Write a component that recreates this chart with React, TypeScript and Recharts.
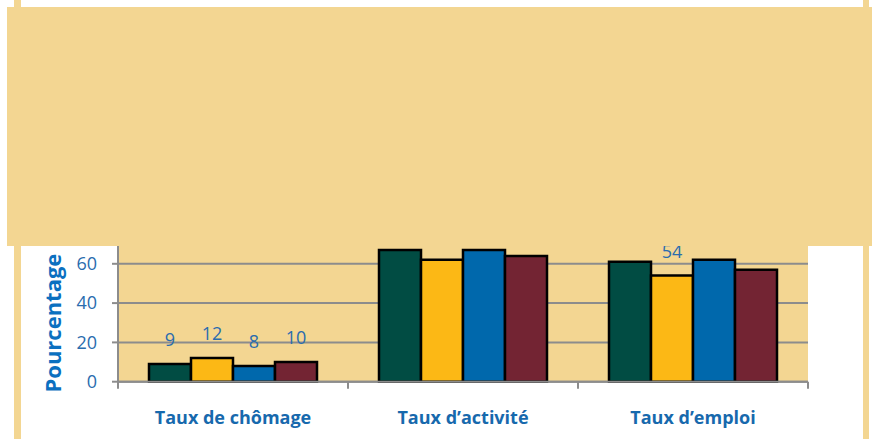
import { BarChart, Bar, XAxis, YAxis, CartesianGrid, LabelList, Label } from "recharts";

const categories = ["Taux de chômage", "Taux d’activité", "Taux d’emploi"];
const serie1 = [9, 67, 61];
const serie2 = [12, 62, 54];
const serie3 = [8, 67, 62];
const serie4 = [10, 64, 57];
// data labels as printed on the chart (the last one is not shown)
const labels1 = ["9", "67", "61"];
const labels2 = ["12", "62", "54"];
const labels3 = ["8", "67", "62"];
const labels4 = ["10", "64", ""];
const yTicks = [0, 20, 40, 60, 80];

const colors = ["#014c43", "#fcb815", "#0068ac", "#732433"];
const beige = "#f3d692";
const gridGray = "#8c8c8c";
const numBlue = "#2a6cae";
const catBlue = "#1769ad";
const font = "'Open Sans', sans-serif";

const chartW = 872;
const margin = { top: 224.5, right: 64, bottom: 0, left: 0 };
const yAxisW = 118;
const plotW = chartW - margin.left - margin.right - yAxisW;
const xTickSize = 7;
const xTickMargin = 23;

const data = categories.map((cat, i) => ({
  cat,
  s1: serie1[i],
  s2: serie2[i],
  s3: serie3[i],
  s4: serie4[i],
}));
const labelSets = [labels1, labels2, labels3, labels4];

const YTitle = ({ viewBox }: any) => {
  const cx = viewBox.x + 52;
  const cy = viewBox.y + viewBox.height / 2 + 20;
  return (
    <text
      x={cx}
      y={cy}
      transform={`rotate(-90 ${cx} ${cy})`}
      textAnchor="middle"
      dominantBaseline="central"
      fill="#0b70c0"
      fontFamily={font}
      fontWeight={700}
      fontSize={22}
    >
      Pourcentage
    </text>
  );
};

// category label + tick marks on the group boundaries
const CatTick = ({ x, y, payload, index }: any) => {
  const band = plotW / categories.length;
  const y1 = y - xTickSize - xTickMargin;
  const y2 = y1 + xTickSize;
  return (
    <g>
      <line x1={x - band / 2} x2={x - band / 2} y1={y1} y2={y2} stroke={gridGray} strokeWidth={2} />
      {index === categories.length - 1 && (
        <line x1={x + band / 2} x2={x + band / 2} y1={y1} y2={y2} stroke={gridGray} strokeWidth={2} />
      )}
      <text
        x={x}
        y={y}
        dy="0.71em"
        textAnchor="middle"
        fill={catBlue}
        fontFamily={font}
        fontWeight={700}
        fontSize={18}
      >
        {payload.value}
      </text>
    </g>
  );
};

export default function App() {
  const keys = ["s1", "s2", "s3", "s4"];
  return (
    <div
      style={{
        position: "absolute",
        left: 0,
        top: 0,
        width: 872,
        height: 439,
        background: "#fff",
        overflow: "hidden",
      }}
    >
      <div style={{ position: "absolute", left: 14, top: 0, width: 7, height: 439, background: beige }} />
      <div style={{ position: "absolute", left: 863, top: 0, width: 6, height: 439, background: beige }} />
      <div style={{ position: "absolute", left: 0, top: 0 }}>
        <BarChart
          width={chartW}
          height={439}
          data={data}
          margin={margin}
          barCategoryGap={31}
          barGap={0}
        >
          <CartesianGrid
            vertical={false}
            fill={beige}
            fillOpacity={1}
            stroke={gridGray}
            strokeWidth={2}
          />
          <XAxis
            dataKey="cat"
            height={57.3}
            axisLine={{ stroke: gridGray, strokeWidth: 2 }}
            tickLine={false}
            tickSize={xTickSize}
            tickMargin={xTickMargin}
            tick={<CatTick />}
            interval={0}
          />
          <YAxis
            width={yAxisW}
            domain={[0, 80]}
            ticks={yTicks}
            axisLine={{ stroke: gridGray, strokeWidth: 2 }}
            tickLine={{ stroke: gridGray, strokeWidth: 2 }}
            tickSize={6}
            tickMargin={15}
            tick={{ fill: numBlue, fontFamily: font, fontSize: 18 }}
          >
            <Label content={YTitle} />
          </YAxis>
          {keys.map((k, i) => (
            <Bar
              key={k}
              dataKey={k}
              fill={colors[i]}
              stroke="#000"
              strokeWidth={2.5}
              isAnimationActive={false}
            >
              <LabelList
                dataKey={k}
                position="top"
                offset={18}
                fill={numBlue}
                fontFamily={font}
                fontSize={18}
                formatter={(_v: any, ...rest: any[]) => _v}
                content={(p: any) => {
                  const txt = labelSets[i][p.index];
                  if (!txt) return null;
                  return (
                    <text
                      x={p.x + p.width / 2}
                      y={p.y - 18}
                      textAnchor="middle"
                      fill={numBlue}
                      fontFamily={font}
                      fontSize={18}
                    >
                      {txt}
                    </text>
                  );
                }}
              />
            </Bar>
          ))}
        </BarChart>
      </div>
      <div
        style={{
          position: "absolute",
          left: 7,
          top: 7,
          width: 865,
          height: 239,
          background: beige,
        }}
      />
    </div>
  );
}
